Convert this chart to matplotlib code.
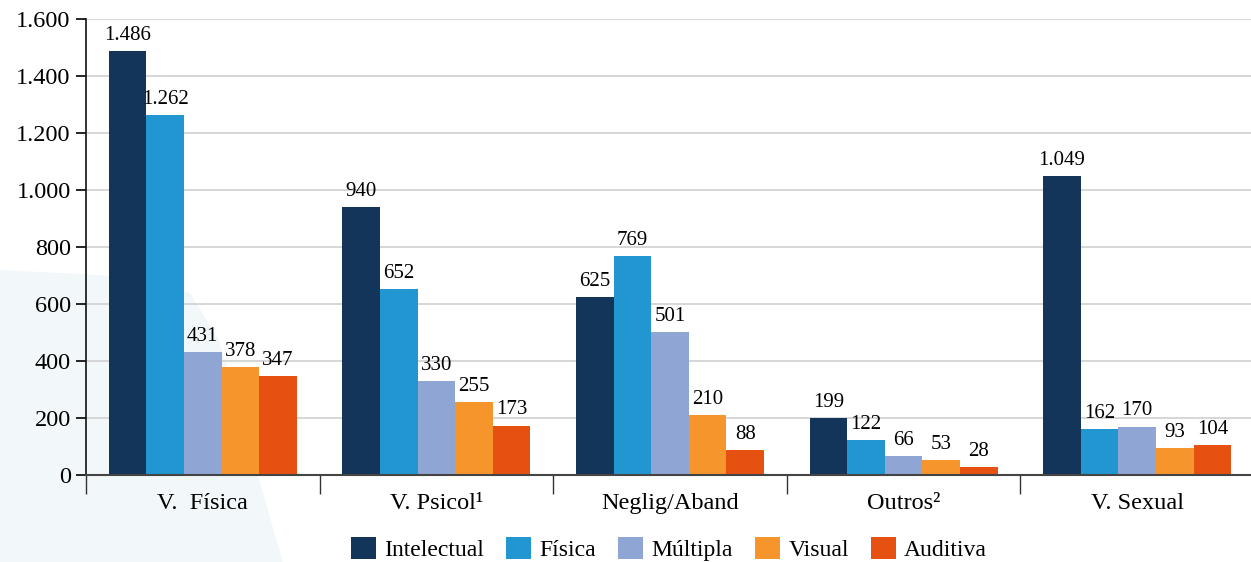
import matplotlib
matplotlib.use("Agg")
import matplotlib.pyplot as plt
import numpy as np
from matplotlib.patches import Polygon

plt.rcParams['font.family'] = ['Liberation Serif', 'DejaVu Serif']

# data
categories = ['V.  Física', 'V. Psicol¹', 'Neglig/Aband', 'Outros²', 'V. Sexual']
series = ['Intelectual', 'Física', 'Múltipla', 'Visual', 'Auditiva']
intelectual = [1486, 940, 625, 199, 1049]
fisica = [1262, 652, 769, 122, 162]
multipla = [431, 330, 501, 66, 170]
visual = [378, 255, 210, 53, 93]
auditiva = [347, 173, 88, 28, 104]
values = [intelectual, fisica, multipla, visual, auditiva]
colors = ['#14355a', '#2196d0', '#8fa5d4', '#f7952d', '#e65010']
yticks = [0, 200, 400, 600, 800, 1000, 1200, 1400, 1600]


def fmt(v):
    return f'{v:,}'.replace(',', '.')


fig = plt.figure(figsize=(12.51, 5.62), dpi=100)

# faint background shape behind the chart
bg = Polygon([(0, 1 - 270 / 562), (0.08, 1 - 275 / 562), (0.152, 1 - 293 / 562),
              (0.175, 1 - 340 / 562), (0.226, 0), (0, 0)], closed=True,
             transform=fig.transFigure, facecolor='#f2f7fa', edgecolor='none', zorder=0)
fig.patches.append(bg)

ax = fig.add_axes([86 / 1251, 1 - 475 / 562, 1168 / 1251, (475 - 19) / 562])
ax.set_zorder(1)
ax.patch.set_alpha(0)

x = np.arange(len(categories))
w = 0.161
for i, (name, vals, c) in enumerate(zip(series, values, colors)):
    pos = x + (i - 2) * w
    ax.bar(pos, vals, width=w, color=c, label=name, zorder=3)
    for p, v in zip(pos, vals):
        ax.text(p, v + 22, fmt(v), ha='center', va='bottom', fontsize=15, zorder=4)

ax.set_xlim(-0.5, 4.5)
ax.set_ylim(0, 1600)
ax.set_yticks(yticks)
ax.set_yticklabels([fmt(t) for t in yticks], fontsize=17.5)
ax.yaxis.grid(True, color='#d0d0d0', linewidth=1.2, zorder=0)
ax.tick_params(axis='y', direction='out', length=7, width=1.2, pad=4)

ax.set_xticks(x)
ax.set_xticklabels(categories, fontsize=17.5)
ax.set_xticks(np.arange(-0.5, 5.0, 1.0), minor=True)
ax.tick_params(axis='x', which='major', length=0, pad=13)
ax.tick_params(axis='x', which='minor', direction='out', length=14, width=1.0, color='#333333')

for s in ['top', 'right']:
    ax.spines[s].set_visible(False)
ax.spines['left'].set_color('#111111')
ax.spines['left'].set_linewidth(1.2)
ax.spines['bottom'].set_color('#444444')
ax.spines['bottom'].set_linewidth(1.5)
ax.spines['bottom'].set_zorder(5)

fig.legend(loc='center', bbox_to_anchor=(669 / 1251, 1 - 549 / 562), ncol=5,
           frameon=False, fontsize=17, handlelength=1.05, handleheight=1.05,
           handletextpad=0.35, columnspacing=0.95)

fig.savefig('out.png', dpi=100)
